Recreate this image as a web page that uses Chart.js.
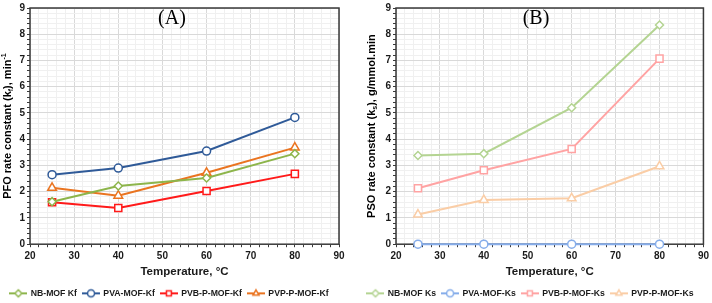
<!DOCTYPE html>
<html>
<head>
<meta charset="utf-8">
<script src="https://cdn.jsdelivr.net/npm/chart.js@4/dist/chart.umd.min.js"></script>
<style>
  html, body { margin: 0; padding: 0; background: #fff; }
  #wrap { position: relative; width: 712px; height: 303px; }
  canvas { position: absolute; top: 0; }
  #cA { left: 0; }
  #cB { left: 356px; }
</style>
</head>
<body>
<div id="wrap">
  <canvas id="cA" width="356" height="303"></canvas>
  <canvas id="cB" width="356" height="303"></canvas>
</div>
<script>
// temperatures (°C)
const temps = [25, 40, 60, 80];

// (A) PFO rate constants kf, min^-1
const kfNB  = [1.62, 2.22, 2.52, 3.45];
const kfPVA = [2.65, 2.90, 3.55, 4.83];
const kfPVB = [1.60, 1.38, 2.03, 2.68];
const kfPVP = [2.15, 1.85, 2.72, 3.68];

// (B) PSO rate constants ks, g/mmol.min
const ksNB  = [3.38, 3.45, 5.20, 8.35];
const ksPVA = [0.00, 0.00, 0.00, 0.00];
const ksPVB = [2.13, 2.82, 3.63, 7.07];
const ksPVP = [1.13, 1.68, 1.75, 2.97];

const labelsA = ['NB-MOF Kf', 'PVA-MOF-Kf', 'PVB-P-MOF-Kf', 'PVP-P-MOF-Kf'];
const labelsB = ['NB-MOF Ks', 'PVA-MOF-Ks', 'PVB-P-MOF-Ks', 'PVP-P-MOF-Ks'];

const shapes = ['rectRot', 'circle', 'rect', 'triangle'];
const radii  = [4, 4, 5, 5];
const colorsA = ['#8DB54B', '#2F5A98', '#FF1A1A', '#EA7420'];
const colorsB = ['#B4D492', '#86ADEA', '#FFA3A3', '#FACDA6'];

const FONT = "'Liberation Sans', Arial, sans-serif";
const TEXT = '#1a1a1a';

function toPoints(vals) {
    return temps.map((t, i) => ({x: t, y: vals[i]}));
}

// little line+marker swatch for the legend
function swatch(color, shape) {
    const c = document.createElement('canvas');
    c.width = 18; c.height = 12;
    const ctx = c.getContext('2d');
    ctx.strokeStyle = color;
    ctx.lineWidth = 2;
    ctx.beginPath(); ctx.moveTo(0, 6); ctx.lineTo(18, 6); ctx.stroke();
    ctx.fillStyle = '#fff';
    ctx.lineWidth = 1.5;
    Chart.helpers.drawPoint(ctx, {pointStyle: shape, radius: 3.5, rotation: 0}, 9, 6);
    ctx.fill(); ctx.stroke();
    return c;
}

// plot frame (under the series), panel letter and y title with sub/superscripts
const decor = {
    id: 'decor',
    beforeDatasetsDraw(chart) {
        const ctx = chart.ctx;
        const a = chart.chartArea;
        ctx.save();
        ctx.strokeStyle = '#3a3a3a';
        ctx.lineWidth = 1.5;
        ctx.strokeRect(a.left, a.top, a.right - a.left, a.bottom - a.top);
        ctx.restore();
    },
    afterDraw(chart, args, opts) {
        const ctx = chart.ctx;
        const a = chart.chartArea;
        ctx.save();
        ctx.fillStyle = '#000';
        ctx.font = "20px 'Liberation Serif', 'Times New Roman', serif";
        ctx.textAlign = 'center';
        ctx.textBaseline = 'middle';
        ctx.fillText(opts.letter, opts.letterX, 19);

        const big = "bold 11px " + FONT, small = "bold 7px " + FONT;
        let total = 0;
        opts.title.forEach(s => {
            ctx.font = s.sub || s.sup ? small : big;
            s.w = ctx.measureText(s.t).width;
            total += s.w;
        });
        ctx.translate(opts.titleX, (a.top + a.bottom) / 2);
        ctx.rotate(-Math.PI / 2);
        ctx.textAlign = 'left';
        ctx.textBaseline = 'middle';
        let x = -total / 2;
        opts.title.forEach(s => {
            ctx.font = s.sub || s.sup ? small : big;
            const dy = s.sub ? 3 : (s.sup ? -4 : 0);
            ctx.fillText(s.t, x, dy);
            x += s.w;
        });
        ctx.restore();
    }
};

function makeChart(id, labels, series, colors, opt) {
    const datasets = series.map((vals, i) => ({
        label: labels[i],
        data: toPoints(vals),
        borderColor: colors[i],
        backgroundColor: '#fff',
        borderWidth: 2,
        pointStyle: shapes[i],
        pointRadius: radii[i],
        pointBorderWidth: 1.5,
        pointBackgroundColor: '#fff',
        pointBorderColor: colors[i],
        tension: 0,
        clip: false
    }));

    return new Chart(document.getElementById(id), {
        type: 'line',
        data: {datasets: datasets},
        plugins: [decor],
        options: {
            responsive: false,
            animation: false,
            layout: {padding: {top: 5, right: opt.padRight, left: 0, bottom: 0}},
            scales: {
                x: {
                    type: 'linear',
                    min: 20, max: 90,
                    border: {display: false},
                    grid: {
                        color: (c) => (c.tick && c.tick.value % 10 === 0) ? '#d9d9d9' : '#f0f0f0',
                        tickColor: '#3a3a3a',
                        tickLength: 3,
                        tickWidth: 1
                    },
                    ticks: {
                        stepSize: 2,
                        autoSkip: false,
                        maxRotation: 0,
                        padding: 3,
                        color: TEXT,
                        font: {family: FONT, size: 10, weight: 'bold'},
                        callback: (v) => v % 10 === 0 ? v : ''
                    },
                    title: {
                        display: true,
                        text: 'Temperature, °C',
                        color: TEXT,
                        padding: {top: 0, bottom: 4},
                        font: {family: FONT, size: 11.5, weight: 'bold'}
                    }
                },
                y: {
                    type: 'linear',
                    min: 0, max: 9,
                    border: {display: false},
                    afterFit: (scale) => { scale.width = opt.yWidth; },
                    grid: {
                        color: (c) => (c.tick && Math.abs(c.tick.value - Math.round(c.tick.value)) < 1e-6) ? '#d9d9d9' : '#f0f0f0',
                        tickColor: '#3a3a3a',
                        tickLength: 3,
                        tickWidth: 1
                    },
                    ticks: {
                        stepSize: 0.2,
                        autoSkip: false,
                        padding: 2,
                        color: TEXT,
                        font: {family: FONT, size: 10, weight: 'bold'},
                        callback: (v) => Math.abs(v - Math.round(v)) < 1e-6 ? Math.round(v) : ''
                    }
                }
            },
            plugins: {
                decor: {letter: opt.letter, letterX: opt.letterX, titleX: opt.titleX, title: opt.title},
                tooltip: {enabled: false},
                legend: {
                    position: 'bottom',
                    maxHeight: 20,
                    labels: {
                        usePointStyle: true,
                        pointStyleWidth: 16,
                        padding: 6,
                        color: TEXT,
                        font: {family: FONT, size: 8.7, weight: 'bold'},
                        generateLabels: (chart) => {
                            const items = Chart.defaults.plugins.legend.labels.generateLabels(chart);
                            items.forEach((it, i) => { it.pointStyle = swatch(colors[i], shapes[i]); });
                            return items;
                        }
                    }
                }
            }
        }
    });
}

makeChart('cA', labelsA, [kfNB, kfPVA, kfPVB, kfPVP], colorsA, {
    padRight: 17, yWidth: 30, letter: '(A)', letterX: 172, titleX: 8,
    title: [{t: 'PFO rate constant (k'}, {t: 'f', sub: true}, {t: '), min'}, {t: '-1', sup: true}]
});

makeChart('cB', labelsB, [ksNB, ksPVA, ksPVB, ksPVP], colorsB, {
    padRight: 7, yWidth: 40, letter: '(B)', letterX: 180, titleX: 16,
    title: [{t: 'PSO rate constant (k'}, {t: 's', sub: true}, {t: '), g/mmol.min'}]
});
</script>
</body>
</html>
